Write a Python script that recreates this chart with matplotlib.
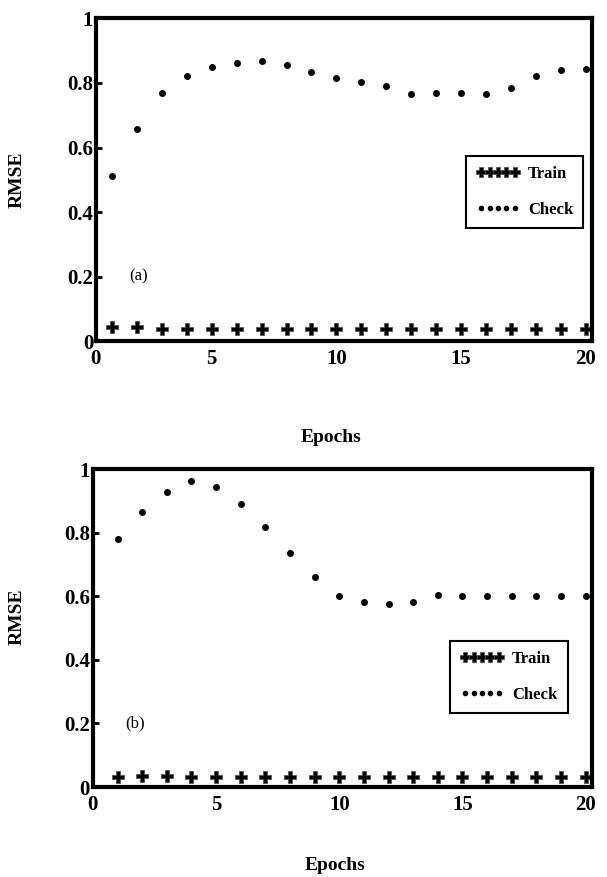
import matplotlib
matplotlib.use("Agg")
import matplotlib.pyplot as plt
import numpy as np

plt.rcParams['font.family'] = ['Liberation Serif', 'DejaVu Serif']

epochs = np.arange(1, 21)

# panel (a)
train_a = [0.045, 0.045, 0.038, 0.038, 0.038, 0.038, 0.038, 0.038, 0.038, 0.038,
           0.038, 0.038, 0.038, 0.038, 0.038, 0.038, 0.038, 0.038, 0.038, 0.038]
check_a = [0.512, 0.657, 0.770, 0.822, 0.849, 0.861, 0.868, 0.856, 0.835, 0.815,
           0.802, 0.791, 0.766, 0.770, 0.770, 0.766, 0.784, 0.822, 0.840, 0.842]

# panel (b)
train_b = [0.033, 0.035, 0.036, 0.030, 0.030, 0.030, 0.030, 0.030, 0.030, 0.030,
           0.030, 0.030, 0.030, 0.030, 0.030, 0.030, 0.030, 0.030, 0.030, 0.030]
check_b = [0.780, 0.864, 0.929, 0.962, 0.944, 0.890, 0.819, 0.737, 0.661, 0.601,
           0.581, 0.574, 0.581, 0.604, 0.601, 0.601, 0.601, 0.601, 0.601, 0.601]

yticks = [0, 0.2, 0.4, 0.6, 0.8, 1]
ytick_labels = ['0', '0.2', '0.4', '0.6', '0.8', '1']
xtick_labels = ['0', '5', '10', '15', '20']

fig = plt.figure(figsize=(6.07, 8.77), dpi=100)
ax1 = fig.add_axes([0.158, 0.611, 0.817, 0.368])
ax2 = fig.add_axes([0.153, 0.1026, 0.822, 0.3626])


def style(ax, train, check, xlo, tag, leg_anchor):
    ax.plot(epochs, check, linestyle='none', marker='o', markersize=4,
            color='black', label='Check')
    ax.plot(epochs, train, linestyle='none', marker='P', markersize=8,
            color='black', markeredgecolor='#555555', markeredgewidth=0.6,
            label='Train')
    ax.set_xlim(xlo, 20.25)
    ax.set_ylim(0, 1)
    ax.set_xticks([xlo, 5, 10, 15, 20])
    ax.set_xticklabels(xtick_labels)
    ax.set_yticks(yticks)
    ax.set_yticklabels(ytick_labels)
    for s in ax.spines.values():
        s.set_linewidth(3)
    ax.tick_params(axis='y', direction='in', length=4, width=2, pad=2)
    ax.tick_params(axis='x', direction='in', length=0, pad=6)
    for t in ax.get_xticklabels() + ax.get_yticklabels():
        t.set_fontsize(15)
        t.set_fontweight('bold')
    ax.text(xlo + 1.7, 0.2, tag, fontsize=12, ha='center', va='center')
    h, l = ax.get_legend_handles_labels()
    leg = ax.legend(h[::-1], l[::-1], loc='upper left', bbox_to_anchor=leg_anchor,
                    numpoints=5, handlelength=2.6, labelspacing=1.2,
                    fancybox=False, framealpha=1, edgecolor='black',
                    borderpad=0.6, handletextpad=0.5,
                    prop={'weight': 'bold', 'size': 12})
    leg.get_frame().set_linewidth(1.5)
    lh = leg.legend_handles
    lh[0].set_markersize(7.5)
    lh[1].set_markersize(3)


style(ax1, train_a, check_a, 0.35, '(a)', (0.73, 0.60))
style(ax2, train_b, check_b, 0.0, '(b)', (0.70, 0.485))

for yy in (0.795, 0.297):
    fig.text(0.028, yy, 'RMSE', rotation=90, ha='center', va='center',
             fontsize=14, fontweight='bold')
fig.text(0.545, 1 - 437 / 877, 'Epochs', ha='center', va='center',
         fontsize=14, fontweight='bold')
fig.text(0.552, 1 - 865 / 877, 'Epochs', ha='center', va='center',
         fontsize=14, fontweight='bold')

fig.savefig('out.png', dpi=100)
